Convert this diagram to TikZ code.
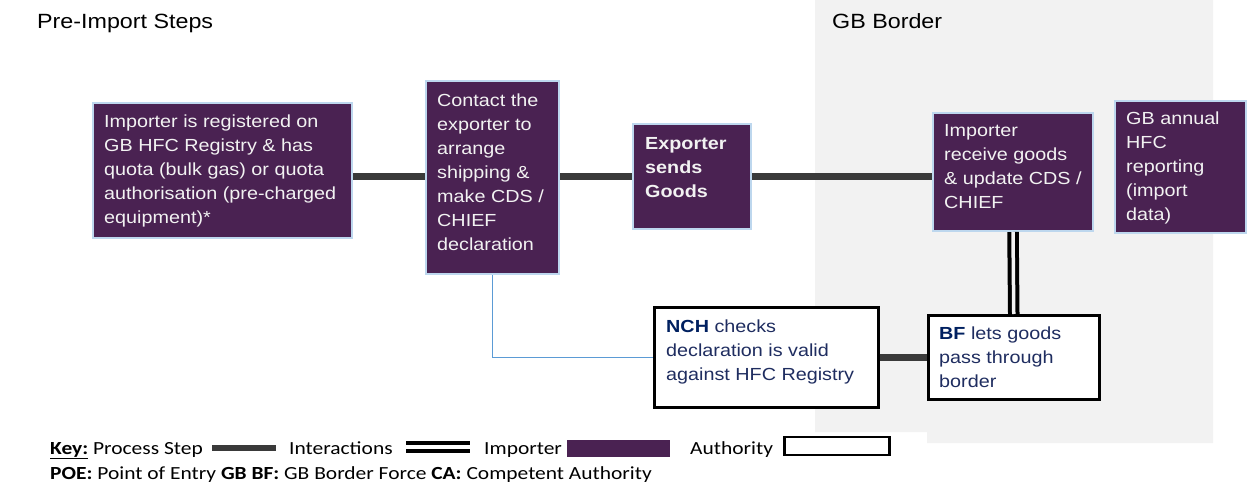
\documentclass[tikz,border=0pt]{standalone}
\usepackage{fontspec}
\setmainfont{Liberation Sans}[FakeStretch=1.13]
\newfontfamily\keyfont{Carlito}[FakeStretch=1.16]
\usetikzlibrary{positioning}
\definecolor{imppurple}{RGB}{74,34,82}
\definecolor{boxblue}{RGB}{189,215,238}
\definecolor{bordergrey}{RGB}{242,242,242}
\definecolor{procgrey}{RGB}{58,58,58}
\definecolor{declblue}{RGB}{91,155,213}
\definecolor{authnavy}{RGB}{31,45,96}
\definecolor{authbold}{RGB}{0,32,96}

\begin{document}
\begin{tikzpicture}[
		x=1pt, y=-1pt,
		node distance=12pt,
		importer/.style={draw=boxblue, line width=2pt, fill=imppurple, inner sep=0pt, anchor=north west},
		authority/.style={draw=black, line width=2.5pt, fill=white, inner sep=0pt, anchor=north west},
		boxtext/.style={inner sep=0pt, align=left, font=\fontsize{17.5}{24}\selectfont, text=bordergrey},
		authtext/.style={boxtext, text=authnavy},
		process/.style={draw=procgrey, line width=7pt},
		interaction/.style={draw=black, line width=4pt, double=bordergrey, double distance=3.5pt},
		keytext/.style={inner sep=0pt, anchor=base west, font=\keyfont\fontsize{18.5}{22}\selectfont},
	]
		\useasboundingbox (0,0) rectangle (1249,487);
		\fill[bordergrey] (815,0) -- (1213,0) -- (1213,443) -- (927,443) -- (927,432) -- (815,432) -- cycle;

		\node (preimport) [inner sep=0pt, anchor=base west, font=\fontsize{20.6}{24}\selectfont] at (37,29) {Pre-Import Steps};
		\node (gbborder) [inner sep=0pt, anchor=base west, font=\fontsize{20.6}{24}\selectfont] at (832,29) {GB Border};

		% importer steps
		\node (reg) [importer, minimum width=259, minimum height=135] at (92,102) {};
		\node (contact) [importer, minimum width=133, minimum height=193] at (425,80) {};
		\node (sends) [importer, minimum width=118, minimum height=105] at (632,123) {};
		\node (receive) [importer, minimum width=160, minimum height=118] at (932,112) {};
		\node (annual) [importer, minimum width=131, minimum height=132] at (1114,100) {};

		% authorities
		\node (nch) [authority, minimum width=224, minimum height=100] at (653,306) {};
		\node (bf) [authority, minimum width=171, minimum height=84] at (927,314) {};

		\node (regtxt) [boxtext, below right=13pt and 12pt of reg.north west] {Importer is registered on\\GB HFC Registry \& has\\quota (bulk gas) or quota\\authorisation (pre-charged\\equipment)*};
		\node (contacttxt) [boxtext, below right=14pt and 12pt of contact.north west] {Contact the\\exporter to\\arrange\\shipping \&\\make CDS /\\CHIEF\\declaration};
		\node (sendstxt) [boxtext, font=\bfseries\fontsize{17.5}{24}\selectfont, below right=14pt and 13pt of sends.north west] {Exporter\\sends\\Goods};
		\node (receivetxt) [boxtext, below right=12pt and 12pt of receive.north west] {Importer\\receive goods\\\& update CDS /\\CHIEF};
		\node (annualtxt) [boxtext, below right=12pt and 12pt of annual.north west] {GB annual\\HFC\\reporting\\(import\\data)};
		\node (nchtxt) [authtext, below right=14pt and 13pt of nch.north west] {\textcolor{authbold}{\textbf{NCH}} checks\\declaration is valid\\against HFC Registry};
		\node (bftxt) [authtext, below right=13pt and 12pt of bf.north west] {\textcolor{authbold}{\textbf{BF}} lets goods\\pass through\\border};

		\draw[process] (reg.east|-sends.west) -- (contact.west|-sends.west);
		\draw[process] (contact.east|-sends.west) -- (sends.west);
		\draw[process] (sends.east) -- (receive.west|-sends.east);
		\draw[process] (nch.east) -- (bf.west|-nch.east);
		\draw[interaction] (receive.south) -- (bf.north);
		\draw[declblue, line width=1pt] (contact.south) |- (nch.west);

		% key
		\node (keyproc) [keytext] at (50,454) {\textbf{\underline{Key:}} Process Step};
		\node (keyprocbar) [fill=procgrey, minimum width=64, minimum height=6, inner sep=0pt, anchor=west] at (212,448) {};
		\node (keyinter) [keytext] at (289,454) {Interactions};
		\coordinate (keyinterl) at (406,447);
		\coordinate (keyinterr) at (470,447);
		\draw[interaction, double=white] (keyinterl) -- (keyinterr);
		\node (keyimp) [keytext] at (484,454) {Importer};
		\node (keyimpbox) [fill=imppurple, minimum width=103, minimum height=17, inner sep=0pt, anchor=west] at (567,448) {};
		\node (keyauth) [keytext] at (690,454) {Authority};
		\node (keyauthbox) [draw=black, line width=2.5pt, minimum width=105, minimum height=18, inner sep=0pt, anchor=west] at (783,446) {};
		\node (keyabbr) [keytext] at (50,479) {\textbf{POE:} Point of Entry \textbf{GB BF:} GB Border Force \textbf{CA:} Competent Authority};
	\end{tikzpicture}
\end{document}
